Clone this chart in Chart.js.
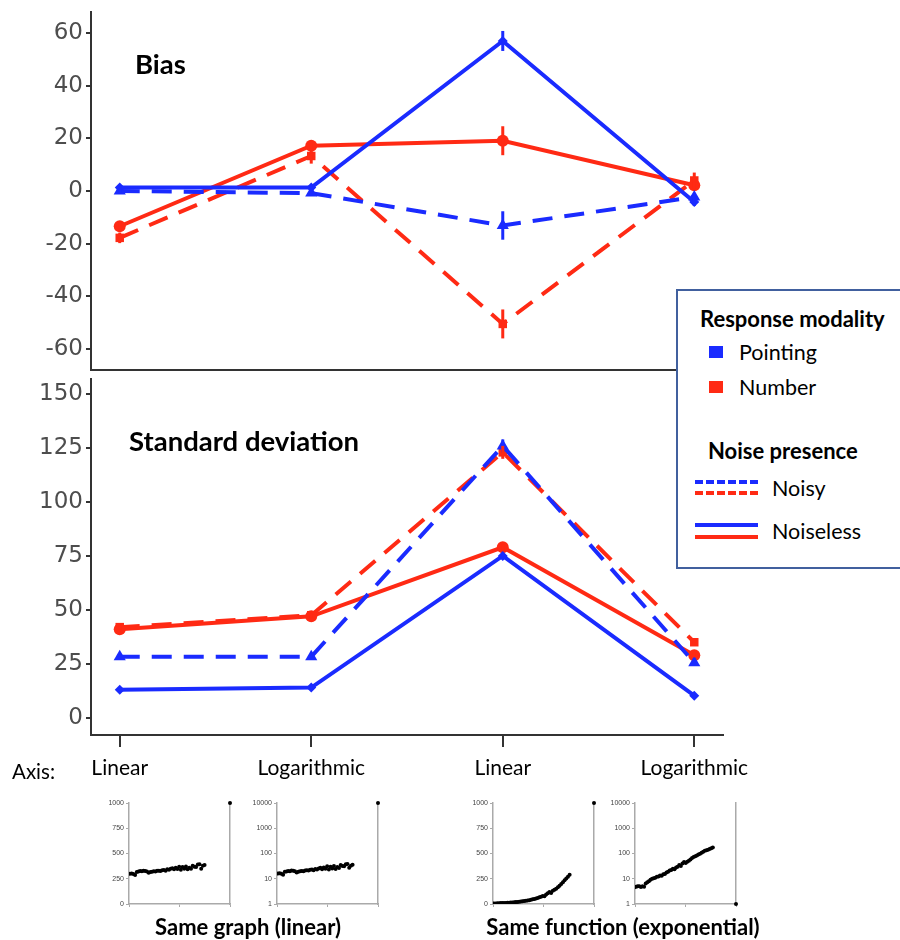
<!DOCTYPE html>
<html>
<head>
<meta charset="utf-8">
<script src="https://cdn.jsdelivr.net/npm/chart.js@4.4.1/dist/chart.umd.min.js"></script>
<style>
  html, body { margin: 0; padding: 0; background: #fff; overflow: hidden; }
  #page { position: relative; width: 900px; height: 940px; font-family: Lato, "Open Sans", sans-serif; }
  canvas { position: absolute; }
  .txt { position: absolute; white-space: nowrap; color: #000; }
  .panel-title { font-weight: bold; font-size: 27.5px; }
  #legend { position: absolute; left: 676px; top: 289px; width: 260px; height: 276px;
            border: 2px solid #41609e; background: #fff; z-index: 5; }
  #legend .txt { font-size: 21.5px; }
  #legend .head { font-weight: bold; font-size: 22px; }
  .swatch { position: absolute; width: 14px; height: 12px; }
  .sample { position: absolute; width: 63px; height: 0; }
</style>
</head>
<body>
<div id="page">
  <canvas id="biasChart" style="left:0;top:-10px" width="780" height="400"></canvas>
  <canvas id="sdChart" style="left:0;top:360px" width="780" height="430"></canvas>

  <div class="txt panel-title" style="left:135px;top:47px">Bias</div>
  <div class="txt panel-title" style="left:129px;top:424px">Standard deviation</div>
  <div class="txt" style="left:12px;top:759px;font-size:20.5px">Axis:</div>

  <canvas id="inset1" width="160" height="125" style="left:85px;top:790px"></canvas>
  <canvas id="inset2" width="160" height="125" style="left:233px;top:790px"></canvas>
  <canvas id="inset3" width="160" height="125" style="left:449px;top:790px"></canvas>
  <canvas id="inset4" width="160" height="125" style="left:591px;top:790px"></canvas>

  <div class="txt" style="left:248px;top:913px;font-size:22px;font-weight:bold;transform:translateX(-50%)">Same graph (linear)</div>
  <div class="txt" style="left:623px;top:913px;font-size:22px;font-weight:bold;transform:translateX(-50%)">Same function (exponential)</div>

  <div id="legend">
    <div class="txt head" style="left:22px;top:14px">Response modality</div>
    <div class="swatch" style="left:31px;top:55px;background:#1a2bff"></div>
    <div class="txt" style="left:61px;top:48px">Pointing</div>
    <div class="swatch" style="left:31px;top:90px;background:#ff2a14"></div>
    <div class="txt" style="left:61px;top:83px">Number</div>
    <div class="txt head" style="left:30px;top:146px">Noise presence</div>
    <div class="sample" style="left:17px;top:189px;border-top:4px dashed #1a2bff"></div>
    <div class="sample" style="left:17px;top:200px;border-top:4px dashed #ff2a14"></div>
    <div class="txt" style="left:94px;top:184px">Noisy</div>
    <div class="sample" style="left:17px;top:232px;border-top:4px solid #1a2bff"></div>
    <div class="sample" style="left:17px;top:244px;border-top:4px solid #ff2a14"></div>
    <div class="txt" style="left:94px;top:227px">Noiseless</div>
  </div>
</div>

<script>
// 颜色
const BLUE = '#1a2bff';
const RED = '#ff2a14';

// x 轴的条件
const conditions = ['Linear', 'Logarithmic', 'Linear', 'Logarithmic'];
const conditionX = [0, 1, 2, 3];

// Bias 数据
const biasPointingNoiseless = [1.3, 1.3, 57, -4.2];
const biasPointingNoisy = [0, -0.8, -13.1, -2.3];
const biasNumberNoiseless = [-13.4, 17.2, 19.1, 2.2];
const biasNumberNoisy = [-17.8, 13.3, -50.5, 4];
const biasPointingNoiselessErr = [1, 1, 3.8, 1.5];
const biasPointingNoisyErr = [1, 1, 5.4, 1.5];
const biasNumberNoiselessErr = [1.5, 1.5, 5.5, 1.5];
const biasNumberNoisyErr = [2, 2.9, 5.5, 3];
const biasTicks = [-60, -40, -20, 0, 20, 40, 60];

// 标准差数据
const sdPointingNoiseless = [13, 14, 75, 10.2];
const sdPointingNoisy = [28.3, 28.3, 126, 25.5];
const sdNumberNoiseless = [41, 47, 79, 29];
const sdNumberNoisy = [42, 47.5, 123, 35];
const sdPointingNoiselessErr = [0.8, 0.8, 1.5, 0.8];
const sdPointingNoisyErr = [1, 1, 3, 1];
const sdNumberNoiselessErr = [1, 1, 1.5, 1];
const sdNumberNoisyErr = [1, 1, 3, 1];
const sdTicks = [0, 25, 50, 75, 100, 125, 150];

// 小图数据
const sameGraphLinear = [300,302,296,288,318,322,326,325,328,327,322,310,316,320,324,322,328,330,327,334,336,330,344,338,348,354,343,358,346,368,338,366,350,372,344,360,348,378,370,366,390,394,350,378,386];
const sameGraphLog = [16,16.5,15.8,14.5,19,19.5,20.5,20,21,20.8,20,17.8,19,19.6,20.3,20,21,21.6,21,22.5,23,21.5,24.5,23,25.5,27,24,28,25,31,23.5,30,25.5,32,24.5,29.5,26.5,35,32,31,37.5,38,27.5,33,35.5];
const expLinear = [6,6,7,8,9,10,10,11,12,13,15,16,18,19,21,23,25,27,30,32,35,38,42,46,50,55,60,66,72,80,76,95,106,118,110,130,140,152,165,180,198,215,235,252,270,290];
const expLog = [4.6,4.8,5.1,5,4.7,5,4.8,6.5,7.2,8,9.2,10,10.5,11,12,12.2,13.5,13,15,15.5,17.5,19,21,22,25,24,28,30,35,32,40,46,42,47,52,58,66,72,78,84,92,98,108,118,128,135,142,152,162,172];
const linTicks = [0, 250, 500, 750, 1000];
const logTicks = [1, 10, 100, 1000, 10000];

// 误差线插件
const errorBarPlugin = {
    id: 'errorBars',
    afterDatasetsDraw(chart) {
        const ctx = chart.ctx;
        const yScale = chart.scales.y;
        chart.data.datasets.forEach((ds, i) => {
            if (!ds.errors) return;
            const meta = chart.getDatasetMeta(i);
            ctx.save();
            ctx.strokeStyle = ds.borderColor;
            ctx.lineWidth = 3;
            meta.data.forEach((pt, j) => {
                const v = ds.data[j].y;
                const e = ds.errors[j];
                ctx.beginPath();
                ctx.moveTo(pt.x, yScale.getPixelForValue(v + e));
                ctx.lineTo(pt.x, yScale.getPixelForValue(v - e));
                ctx.stroke();
            });
            ctx.restore();
        });
    }
};

function toPoints(values) {
    return values.map((v, i) => ({ x: conditionX[i], y: v }));
}

function series(values, errors, color, dashed, style, radius) {
    return {
        data: toPoints(values),
        errors: errors,
        borderColor: color,
        backgroundColor: color,
        borderWidth: 4,
        borderDash: dashed ? [20, 12] : [],
        pointStyle: style,
        pointRadius: radius,
        pointBorderWidth: 0,
        fill: false,
        tension: 0
    };
}

function mainChart(id, sets, yMin, yMax, yTicks, showX, padding) {
    return new Chart(document.getElementById(id), {
        type: 'line',
        data: { datasets: sets },
        options: {
            responsive: false,
            animation: false,
            events: [],
            layout: { padding: padding },
            plugins: { legend: { display: false }, tooltip: { enabled: false } },
            scales: {
                x: {
                    type: 'linear',
                    min: -0.15,
                    max: 3.15,
                    afterBuildTicks: s => { s.ticks = conditionX.map(v => ({ value: v })); },
                    afterFit: s => { s.height = showX ? 55 : 0; },
                    grid: { display: showX, drawOnChartArea: false, drawTicks: showX, tickLength: 12, color: '#333', lineWidth: 2 },
                    border: { display: true, color: '#333', width: 2 },
                    ticks: {
                        display: showX,
                        padding: 9,
                        color: '#000',
                        font: { family: 'Lato', size: 21 },
                        callback: (v) => conditions[v]
                    }
                },
                y: {
                    min: yMin,
                    max: yMax,
                    afterBuildTicks: s => { s.ticks = yTicks.map(v => ({ value: v })); },
                    afterFit: s => { s.width = 91; },
                    grid: { drawOnChartArea: false, tickLength: 5, color: '#333', lineWidth: 2 },
                    border: { display: true, color: '#333', width: 2 },
                    ticks: {
                        padding: 3,
                        color: '#4d4d4d',
                        font: { family: 'DejaVu Sans', size: 23 }
                    }
                }
            }
        },
        plugins: [errorBarPlugin]
    });
}

mainChart('biasChart', [
    series(biasPointingNoiseless, biasPointingNoiselessErr, BLUE, false, 'rectRot', 5),
    series(biasPointingNoisy, biasPointingNoisyErr, BLUE, true, 'triangle', 7),
    series(biasNumberNoiseless, biasNumberNoiselessErr, RED, false, 'circle', 6),
    series(biasNumberNoisy, biasNumberNoisyErr, RED, true, 'rect', 6)
], -68, 68, biasTicks, false, { top: 22, right: 57, bottom: 20, left: 0 });

mainChart('sdChart', [
    series(sdPointingNoiseless, sdPointingNoiselessErr, BLUE, false, 'rectRot', 5),
    series(sdPointingNoisy, sdPointingNoisyErr, BLUE, true, 'triangle', 7),
    series(sdNumberNoiseless, sdNumberNoiselessErr, RED, false, 'circle', 6),
    series(sdNumberNoisy, sdNumberNoisyErr, RED, true, 'rect', 6)
], -8, 157, sdTicks, true, { top: 19, right: 57, bottom: 0, left: 0 });

// 小图
function insetChart(id, values, isLog, xMin, xMax, anchorY) {
    const pts = values.map((v, i) => ({ x: i, y: v }));
    return new Chart(document.getElementById(id), {
        type: 'scatter',
        data: {
            datasets: [
                { data: pts, pointRadius: 2, backgroundColor: '#000', borderWidth: 0 },
                { data: [{ x: xMax, y: anchorY }], pointRadius: 2, backgroundColor: '#000', borderWidth: 0, clip: false }
            ]
        },
        options: {
            responsive: false,
            animation: false,
            events: [],
            layout: { padding: { top: 13, right: 15, bottom: 5, left: 0 } },
            plugins: { legend: { display: false }, tooltip: { enabled: false } },
            scales: {
                x: {
                    type: 'linear',
                    min: xMin,
                    max: xMax,
                    afterBuildTicks: s => { s.ticks = [{ value: xMin }, { value: (xMin + xMax) / 2 }, { value: xMax }]; },
                    afterFit: s => { s.height = 6; },
                    grid: { drawOnChartArea: false, tickLength: 3, color: '#aaa' },
                    border: { display: true, color: '#aaa', width: 1.5 },
                    ticks: { display: false }
                },
                y: {
                    type: isLog ? 'logarithmic' : 'linear',
                    min: isLog ? 1 : 0,
                    max: isLog ? 10000 : 1000,
                    afterBuildTicks: s => { s.ticks = (isLog ? logTicks : linTicks).map(v => ({ value: v })); },
                    afterFit: s => { s.width = 44; },
                    grid: { drawOnChartArea: false, tickLength: 3, color: '#aaa' },
                    border: { display: true, color: '#aaa', width: 1.5 },
                    ticks: {
                        padding: 2,
                        color: '#444',
                        font: { family: 'Liberation Sans', size: 7 },
                        callback: v => String(v)
                    }
                },
                yRight: {
                    position: 'right',
                    type: 'linear',
                    min: 0,
                    max: 1,
                    afterFit: s => { s.width = 0; },
                    grid: { display: false },
                    border: { display: true, color: '#aaa', width: 1.5 },
                    ticks: { display: false }
                }
            }
        }
    });
}

insetChart('inset1', sameGraphLinear, false, -0.6, 59, 1000);
insetChart('inset2', sameGraphLog, true, -0.6, 59, 10000);
insetChart('inset3', expLinear, false, -0.6, 59.5, 1000);
insetChart('inset4', expLog, true, 0.3, 63.5, 1);
</script>
</body>
</html>
